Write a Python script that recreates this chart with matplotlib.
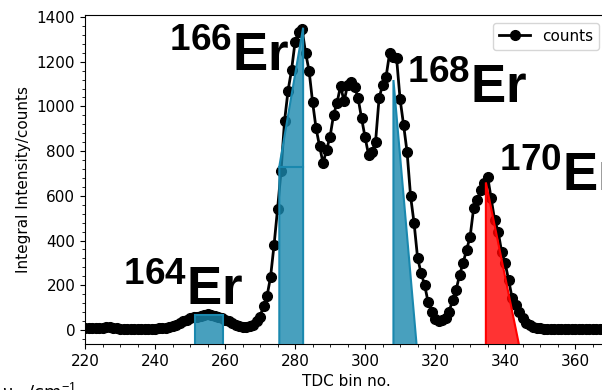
import numpy as np
import matplotlib
matplotlib.use("Agg")
import matplotlib.pyplot as plt
from matplotlib.ticker import AutoMinorLocator, MultipleLocator

# TDC bins and integral counts
bins = np.arange(220, 370)
counts = [8, 7, 8, 9, 10, 10, 11, 12, 10, 8,
          6, 5, 4, 4, 4, 3, 4, 4, 5, 5,
          6, 7, 8, 10, 14, 18, 24, 30, 38, 46,
          52, 56, 58, 62, 68, 72, 68, 62, 58, 52,
          45, 38, 30, 24, 18, 15, 14, 16, 22, 38,
          60, 108, 152, 237, 380, 541, 712, 935, 1071, 1163,
          1288, 1335, 1345, 1240, 1160, 1020, 902, 822, 746, 805,
          865, 962, 1017, 1092, 1022, 1096, 1111, 1089, 1037, 947,
          862, 783, 798, 843, 1037, 1096, 1133, 1238, 1220, 1215,
          1032, 917, 795, 598, 477, 322, 254, 201, 125, 82,
          50, 42, 45, 52, 82, 134, 179, 246, 300, 358,
          417, 544, 582, 626, 656, 686, 589, 492, 440, 350,
          298, 224, 142, 112, 82, 52, 32, 20, 14, 10,
          8, 6, 5, 5, 4, 4, 4, 3, 3, 3,
          3, 3, 3, 3, 3, 3, 3, 3, 3, 3]

# isotope windows (left/right bin edge, height at left/right edge)
isotopes = ['164', '166', '168', '170']
win_lo = [251.3, 275.5, 308.1, 334.5]
win_hi = [259.3, 282.3, 314.9, 344.4]
win_h_left = [67, 731, 1118, 660]
win_h_right = [67, 1352, -100, -100]
win_colors = ['#1a88ae', '#1a88ae', '#1a88ae', '#ff0000']

# where the isotope names sit (data coords, left/baseline)
lab_x = [230.9, 244.0, 311.9, 338.3]
lab_y = [112, 1160, 1014, 622]

floor = -100

plt.rcParams['mathtext.fontset'] = 'custom'
plt.rcParams['mathtext.bf'] = 'Liberation Sans:bold'
plt.rcParams['mathtext.rm'] = 'Liberation Sans'
plt.rcParams['mathtext.it'] = 'Liberation Sans:italic'

fig = plt.figure(figsize=(6.02, 3.90), dpi=100)
ax = fig.add_axes([85/602, 46/390, 522/602, 329/390])

ax.plot(bins, counts, 'k-', marker='o', markersize=7, lw=2, label='counts', zorder=2)

for i in range(len(isotopes)):
    c = matplotlib.colors.to_rgb(win_colors[i])
    xs = [win_lo[i], win_lo[i], win_hi[i], win_hi[i]]
    ys = [floor, win_h_left[i], max(win_h_right[i], floor), floor]
    ax.fill(xs, ys, facecolor=c + (0.8,), edgecolor=c + (1.0,), lw=1.5, zorder=3)
    if win_h_right[i] > win_h_left[i]:
        # window drawn as bar + triangle on top
        ax.plot([win_lo[i], win_hi[i]], [win_h_left[i], win_h_left[i]],
                color=c, lw=1.5, zorder=3)
    ax.text(lab_x[i], lab_y[i], r'$^{\mathbf{%s}}\mathbf{Er}$' % isotopes[i],
            fontsize=38, ha='left', va='baseline', zorder=4)

ax.set_xlim(220, 369.1)
ax.set_ylim(-63, 1409)
ax.xaxis.set_major_locator(MultipleLocator(20))
ax.xaxis.set_minor_locator(AutoMinorLocator(4))
ax.yaxis.set_major_locator(MultipleLocator(200))
ax.yaxis.set_minor_locator(AutoMinorLocator(5))
ax.tick_params(labelsize=11)
ax.set_xlabel('TDC bin no.', fontsize=11)
ax.set_ylabel('Integral Intensity/counts', fontsize=11)
ax.legend(loc='upper right', fontsize=11)

# axis label of the neighbouring panel, cut by the frame
fig.text(77/602, 1 - 381/390, r'$\nu_{vib}$/cm$^{-1}$', fontsize=13, ha='right', va='top')

fig.savefig('out.png', dpi=100)
